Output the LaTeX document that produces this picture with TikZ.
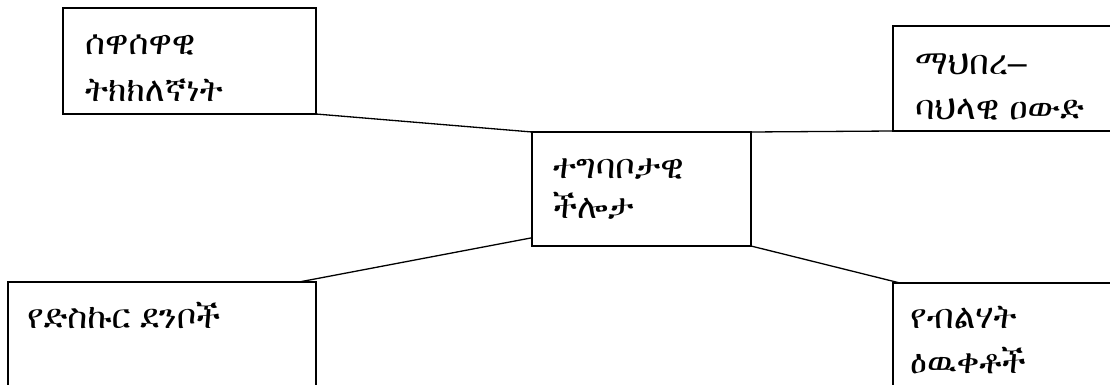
\documentclass[tikz,border=0pt]{standalone}
\usepackage{fontspec}
\setmainfont{Liberation Sans}
\IfFontExistsTF{FreeSerif}{\newfontfamily\ethfont{FreeSerif}}{%
  \IfFontExistsTF{Abyssinica SIL}{\newfontfamily\ethfont{Abyssinica SIL}}{\newfontfamily\ethfont{DejaVu Sans}}}
\usepackage{tikz}

\begin{document}
\begin{tikzpicture}[x=1pt,y=-1pt,
		box/.style={draw, line width=1.3pt, anchor=north west, inner sep=0pt, outer sep=0pt},
		txt/.style={anchor=base west, align=left, inner sep=0pt, font=\ethfont\fontsize{34}{45}\selectfont}]
			\useasboundingbox (0,0) rectangle (1110,385);
			\node[box, minimum width=253pt, minimum height=106pt] (gram) at (63,8) {};
			\node[box, minimum width=222pt, minimum height=105pt] (ctx) at (893,26) {};
			\node[box, minimum width=219pt, minimum height=114pt] (comp) at (532,132) {};
			\node[box, minimum width=308pt, minimum height=130pt] (disc) at (8,282) {};
			\node[box, minimum width=222pt, minimum height=130pt] (strat) at (893,283) {};
			% text nodes sit on the baseline of their last line
			\node[txt] (gramtxt) at (85,102) {ሰዋሰዋዊ\\[2pt]ትክክለኛነት};
			\node[txt] (ctxtxt) at (915,120) {ማህበረ{\rmfamily –}\\ባህላዊ\hspace{10pt}ዐውድ};
			\node[txt] (comptxt) at (553,218) {ተግባቦታዊ\\[-5pt]ችሎታ};
			\node[txt] (disctxt) at (27,328) {የድስኩር\hspace{10pt}ደንቦች};
			\node[txt] (strattxt) at (910,373) {የብልሃት\\ዕዉቀቶች};
			\draw[line width=1.3pt] (gram.south east) -- (comp.north west);
			\draw[line width=1.3pt] (comp.north east) -- (ctx.south west);
			\draw[line width=1.3pt] (comp.204) -- ([xshift=-17pt]disc.north east);
			\draw[line width=1.3pt] (comp.south east) -- ([xshift=7pt]strat.north west);
		\end{tikzpicture}
\end{document}
